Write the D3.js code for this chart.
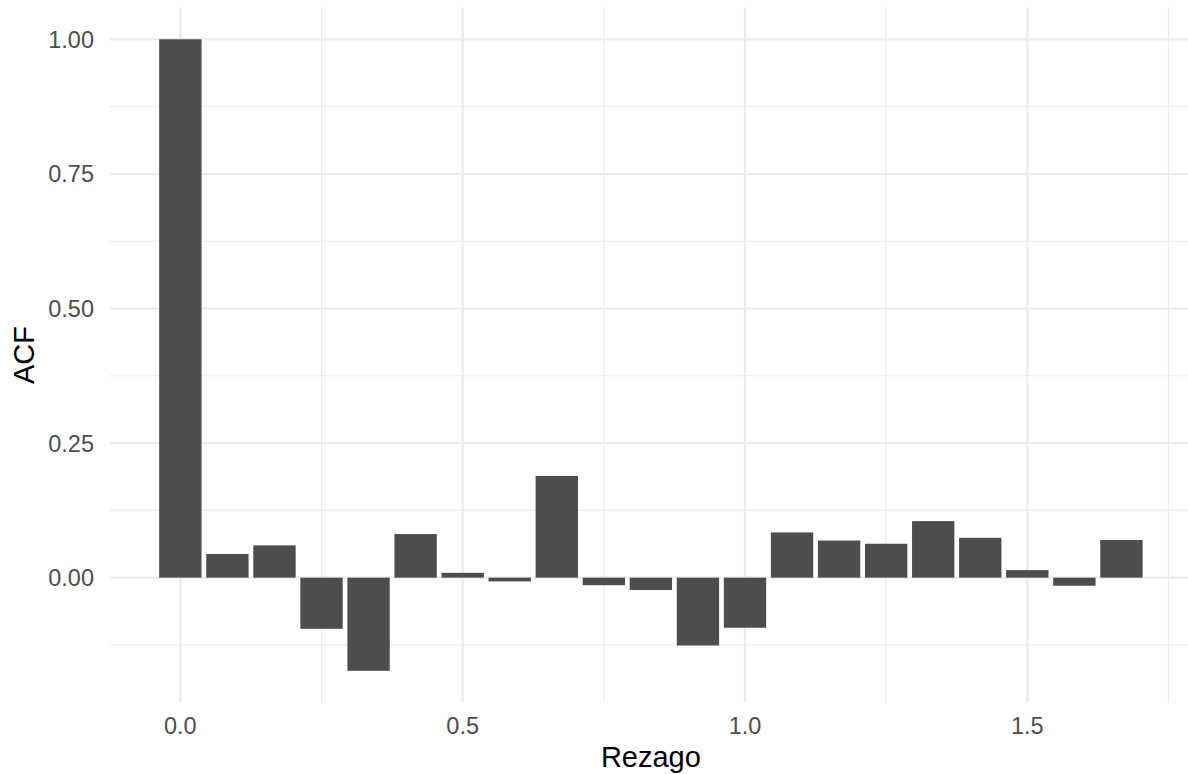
<!DOCTYPE html>
<html>
<head>
<meta charset="utf-8">
<script src="https://cdn.jsdelivr.net/npm/d3@7"></script>
<style>
  body { margin: 0; background: #fff; }
  text { font-family: "Liberation Sans", Arial, sans-serif; }
</style>
</head>
<body>
<div id="chart"></div>
<script>
// lags (in years, monthly steps) and ACF values
var lags = d3.range(21).map(function (i) { return i / 12; });
var acf = [1.000, 0.044, 0.060, -0.095, -0.173, 0.081, 0.009, -0.007, 0.189, -0.014,
           -0.023, -0.126, -0.093, 0.084, 0.069, 0.063, 0.105, 0.074, 0.014, -0.015, 0.070];
var xTicks = [0, 0.5, 1.0, 1.5];
var xMinor = [0.25, 0.75, 1.25, 1.75];
var yTicks = [0, 0.25, 0.5, 0.75, 1.0];
var yMinor = [-0.125, 0.125, 0.375, 0.625, 0.875];

var W = 1188, H = 774;
var svg = d3.select("#chart").append("svg").attr("width", W).attr("height", H);

// panel: left 110, top 8, bottom 702 (right edge runs off the picture)
var x = d3.scaleLinear().domain([-0.1246, 1.7913]).range([110, 1191.8]);
var y = d3.scaleLinear().domain([-0.2317, 1.0587]).range([702.4, 7.7]);
var barW = x(0.9 / 12) - x(0);

var grid = svg.append("g");
grid.selectAll(".ymin").data(yMinor).enter().append("line")
  .attr("x1", x.range()[0]).attr("x2", x.range()[1])
  .attr("y1", function (d) { return y(d); }).attr("y2", function (d) { return y(d); })
  .attr("stroke", "#EBEBEB").attr("stroke-width", 1.1);
grid.selectAll(".xmin").data(xMinor).enter().append("line")
  .attr("y1", y.range()[0]).attr("y2", y.range()[1])
  .attr("x1", function (d) { return x(d); }).attr("x2", function (d) { return x(d); })
  .attr("stroke", "#EBEBEB").attr("stroke-width", 1.1);
grid.selectAll(".ymaj").data(yTicks).enter().append("line")
  .attr("x1", x.range()[0]).attr("x2", x.range()[1])
  .attr("y1", function (d) { return y(d); }).attr("y2", function (d) { return y(d); })
  .attr("stroke", "#EBEBEB").attr("stroke-width", 2.2);
grid.selectAll(".xmaj").data(xTicks).enter().append("line")
  .attr("y1", y.range()[0]).attr("y2", y.range()[1])
  .attr("x1", function (d) { return x(d); }).attr("x2", function (d) { return x(d); })
  .attr("stroke", "#EBEBEB").attr("stroke-width", 2.2);

// bars
svg.append("g").selectAll("rect").data(acf).enter().append("rect")
  .attr("x", function (d, i) { return x(lags[i]) - barW / 2; })
  .attr("width", barW)
  .attr("y", function (d) { return y(Math.max(0, d)); })
  .attr("height", function (d) { return Math.abs(y(d) - y(0)); })
  .attr("fill", "#4D4D4D");

// tick labels
svg.append("g").selectAll("text").data(yTicks).enter().append("text")
  .attr("x", 94).attr("y", function (d) { return y(d); })
  .attr("dy", "0.36em").attr("text-anchor", "end")
  .attr("font-size", 23.5).attr("fill", "#4D4D4D")
  .text(function (d) { return d3.format(".2f")(d); });
svg.append("g").selectAll("text").data(xTicks).enter().append("text")
  .attr("x", function (d) { return x(d); }).attr("y", 734)
  .attr("text-anchor", "middle")
  .attr("font-size", 23.5).attr("fill", "#4D4D4D")
  .text(function (d) { return d3.format(".1f")(d); });

// axis titles
svg.append("text").attr("x", (x.range()[0] + x.range()[1]) / 2).attr("y", 767)
  .attr("text-anchor", "middle").attr("font-size", 29).attr("fill", "#000")
  .text("Rezago");
svg.append("text")
  .attr("transform", "translate(34," + (y.range()[0] + y.range()[1]) / 2 + ") rotate(-90)")
  .attr("text-anchor", "middle").attr("font-size", 29).attr("fill", "#000")
  .text("ACF");
</script>
</body>
</html>
